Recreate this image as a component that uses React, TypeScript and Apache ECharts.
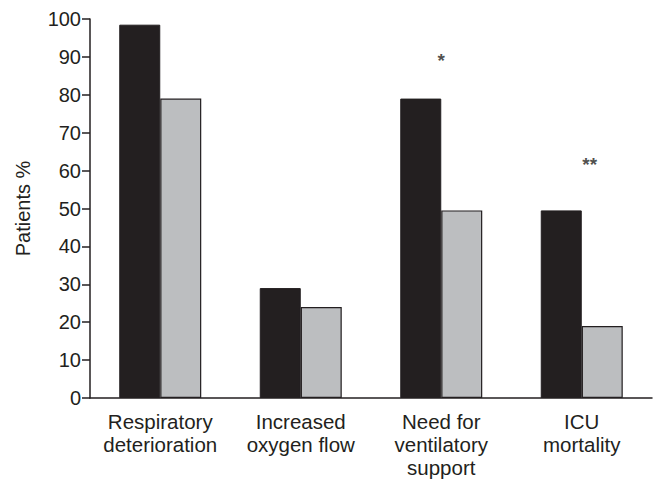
import React, { useEffect, useRef } from "react";
import * as echarts from "echarts";

const categories = [
  "Respiratory\ndeterioration",
  "Increased\noxygen flow",
  "Need for\nventilatory\nsupport",
  "ICU\nmortality",
];
const blackValues = [98.5, 29, 79, 49.5];
const greyValues = [79, 24, 49.5, 19];
const yTicks = { min: 0, max: 100, interval: 10 };
const annotations: [number, number, string, number][] = [
  [2, 89, "*", 0],
  [3, 61.5, "**", 8],
];

const INK = "#231f20";
const FONT = "'Liberation Sans', Arial, sans-serif";

export default function App() {
  const ref = useRef<HTMLDivElement>(null);
  useEffect(() => {
    if (!ref.current) return;
    const chart = echarts.init(ref.current, undefined, { renderer: "svg" });
    chart.setOption({
      animation: false,
      backgroundColor: "#ffffff",
      textStyle: { fontFamily: FONT, color: INK },
      grid: { left: 90, right: 8, top: 19, bottom: 81, containLabel: false },
      xAxis: {
        type: "category",
        data: categories,
        boundaryGap: true,
        axisLine: { lineStyle: { color: INK, width: 1.5 } },
        axisTick: { alignWithLabel: true, length: 7, lineStyle: { color: INK, width: 1.5 } },
        axisLabel: {
          interval: 0,
          margin: 12,
          fontSize: 20.5,
          lineHeight: 23,
          color: INK,
          fontFamily: FONT,
        },
      },
      yAxis: {
        type: "value",
        min: yTicks.min,
        max: yTicks.max,
        interval: yTicks.interval,
        name: "Patients %",
        nameLocation: "middle",
        nameGap: 57,
        nameTextStyle: { fontSize: 20, color: INK, fontFamily: FONT },
        splitLine: { show: false },
        axisLine: { show: true, lineStyle: { color: INK, width: 1.5 } },
        axisTick: { show: true, length: 8, lineStyle: { color: INK, width: 1.5 } },
        axisLabel: { margin: 9, fontSize: 20, color: INK, fontFamily: FONT },
      },
      series: [
        {
          type: "bar",
          data: blackValues,
          barWidth: 41,
          barGap: "0%",
          itemStyle: { color: INK, borderColor: INK, borderWidth: 1 },
        },
        {
          type: "bar",
          data: greyValues,
          barWidth: 41,
          barGap: "0%",
          itemStyle: { color: "#bcbec0", borderColor: INK, borderWidth: 1.2 },
        },
        {
          type: "scatter",
          data: annotations.map((a) => ({
            value: [a[0], a[1]],
            name: a[2],
            label: { offset: [a[3], 0] },
          })),
          symbolSize: 0,
          silent: true,
          label: {
            show: true,
            position: "inside",
            formatter: (p: any) => p.name,
            fontSize: 19,
            fontWeight: "bold",
            color: INK,
            fontFamily: FONT,
          },
        },
      ],
    });
    return () => chart.dispose();
  }, []);
  return (
    <div
      ref={ref}
      style={{ position: "fixed", left: 0, top: 0, width: 660, height: 479, background: "#fff" }}
    />
  );
}
